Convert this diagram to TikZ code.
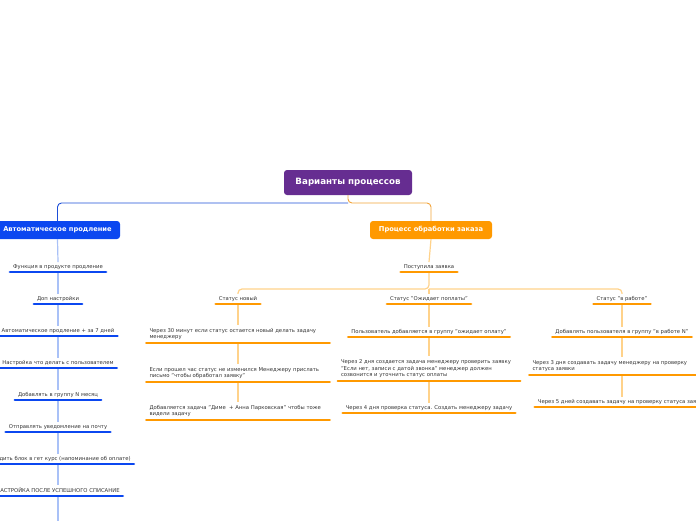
\documentclass[tikz,border=0pt]{standalone}
\usepackage{fontspec}
\setmainfont{DejaVu Sans}
\definecolor{purp}{HTML}{662D91}
\definecolor{bblue}{HTML}{0B47F0}
\definecolor{orng}{HTML}{FF9900}
\definecolor{lblue}{HTML}{A9C1F7}
\definecolor{lorng}{HTML}{FFD28A}
\definecolor{txt}{HTML}{333333}
\definecolor{topblue}{HTML}{1D4ED8}
\definecolor{toporng}{HTML}{F2A33A}
\begin{document}
\begin{tikzpicture}[x=1pt,y=-1pt,
 rootbox/.style={fill=purp, rounded corners=3pt, text=white, font=\fontsize{8.7}{10}\selectfont\bfseries, minimum width=128pt, minimum height=25pt, inner sep=0pt},
 branchbox/.style={rounded corners=3pt, text=white, font=\fontsize{6.7}{8}\selectfont\bfseries, minimum height=18pt, inner sep=0pt},
 itembase/.style={anchor=south, text=txt, font=\fontsize{5.3}{6.8}\selectfont, inner xsep=3pt},
 item/.style={itembase, inner ysep=2.2pt, text depth=1.3pt},
 mitem/.style={itembase, inner ysep=2.8pt, align=flush left},
 bul/.style={bblue, line width=2.6pt, line cap=round},
 oul/.style={orng, line width=2.6pt, line cap=round},
 blink/.style={lblue, line width=1.2pt},
 olink/.style={lorng, line width=1.2pt},
 toplink/.style={line width=0.9pt, rounded corners=4pt},
]
\useasboundingbox (0,0) rectangle (696,520);

% root and branches
\node[rootbox] (root) at (348,182.5) {Варианты процессов};
\node[branchbox, fill=bblue, minimum width=125pt] (auto) at (57.5,230) {Автоматическое продление};
\node[branchbox, fill=orng, minimum width=122pt] (proc) at (431,230) {Процесс обработки заказа};
\coordinate (jr) at (348,203);

% left column
\node[item] (f1) at (58,272) {Функция в продукте продление};
\node[item] (f2) at (58,304) {Доп настройки};
\node[item] (f3) at (58,336) {Автоматическое продление + за 7 дней};
\node[item] (f4) at (58,368) {Настройка что делать с пользователем};
\node[item] (f5) at (58,400) {Добавлять в группу N месяц};
\node[item] (f6) at (58,432) {Отправлять уведомление на почту};
\node[item] (f7) at (58,464) {Выводить блок в гет курс (напоминание об оплате)};
\node[item] (f8) at (58,496) {НАСТРОЙКА ПОСЛЕ УСПЕШНОГО СПИСАНИЕ};
\coordinate (fend) at (58,530);

% right branch
\node[item] (pz) at (429,272) {Поступила заявка};
\coordinate (jh) at (429,289);
\node[item] (s1) at (238,304) {Статус новый};
\node[item] (s2) at (429,304) {Статус "Ожидает поплаты"};
\node[item] (s3) at (622,304) {Статус "в работе"};

\node[mitem, text width=177pt] (n1) at (238,343) {Через 30 минут если статус остается новый делать задачу\\менеджеру};
\node[mitem, text width=177pt] (n2) at (238,382) {Если прошел час статус не изменился Менеджеру прислать\\письмо "чтобы обработал заявку"};
\node[mitem, text width=177pt] (n3) at (238,420) {Добавляется задача "Диме~ + Анна Парковская" чтобы тоже\\видели задачу};

\node[item] (m1) at (429,337) {Пользователь добавляется в группу "ожидает оплату"};
\node[mitem, text width=176pt] (m2) at (429,381) {Через 2 дня создается задача менеджеру проверить заявку\\"Если нет, записи с датой звонка" менеджер должен\\созвонится и уточнить статус оплаты};
\node[item] (m3) at (429,413) {Через 4 дня проверка статуса. Создать менеджеру задачу};

\node[item] (r1) at (622,337) {Добавлять пользователя в группу "в работе N"};
\node[mitem, text width=160pt] (r2) at (612.5,375) {Через 3 дня создавать задачу менеджеру на проверку\\статуса заявки};
\node[item] (r3) at (622,407) {Через 5 дней создавать задачу на проверку статуса заявки};

% connectors
\draw[toplink, topblue] (jr) -| (auto.north);
\draw[toplink, toporng] (root.south) -- (jr) -| (proc.north);

\draw[blink] (auto.south) -- (f1.north);
\draw[blink] (f1.south) -- (f2.north);
\draw[blink] (f2.south) -- (f3.north);
\draw[blink] (f3.south) -- (f4.north);
\draw[blink] (f4.south) -- (f5.north);
\draw[blink] (f5.south) -- (f6.north);
\draw[blink] (f6.south) -- (f7.north);
\draw[blink] (f7.south) -- (f8.north);
\draw[blink] (f8.south) -- (fend);

\draw[olink] (proc.south) -- (pz.north);
\draw[olink, rounded corners=4pt] (pz.south) -- (jh) -| (s1.north);
\draw[olink, rounded corners=4pt] (jh) -| (s3.north);
\draw[olink] (jh) -- (s2.north);

\draw[olink] (s1.south) -- (n1.north);
\draw[olink] (n1.south) -- (n2.north);
\draw[olink] (n2.south) -- (n3.north);

\draw[olink] (s2.south) -- (m1.north);
\draw[olink] (m1.south) -- (m2.north);
\draw[olink] (m2.south) -- (m3.north);

\draw[olink] (s3.south) -- (r1.north);
\draw[olink] (r1.south) -- (r1.south |- r2.north);
\draw[olink] (r1.south |- r2.south) -- (r3.north);

% underlines
\foreach \n in {f1,f2,f3,f4,f5,f6,f7,f8}
  \draw[bul] (\n.south west) -- (\n.south east);
\foreach \n in {pz,s1,s2,s3,n1,n2,n3,m1,m2,m3,r1,r2,r3}
  \draw[oul] (\n.south west) -- (\n.south east);
\end{tikzpicture}
\end{document}
